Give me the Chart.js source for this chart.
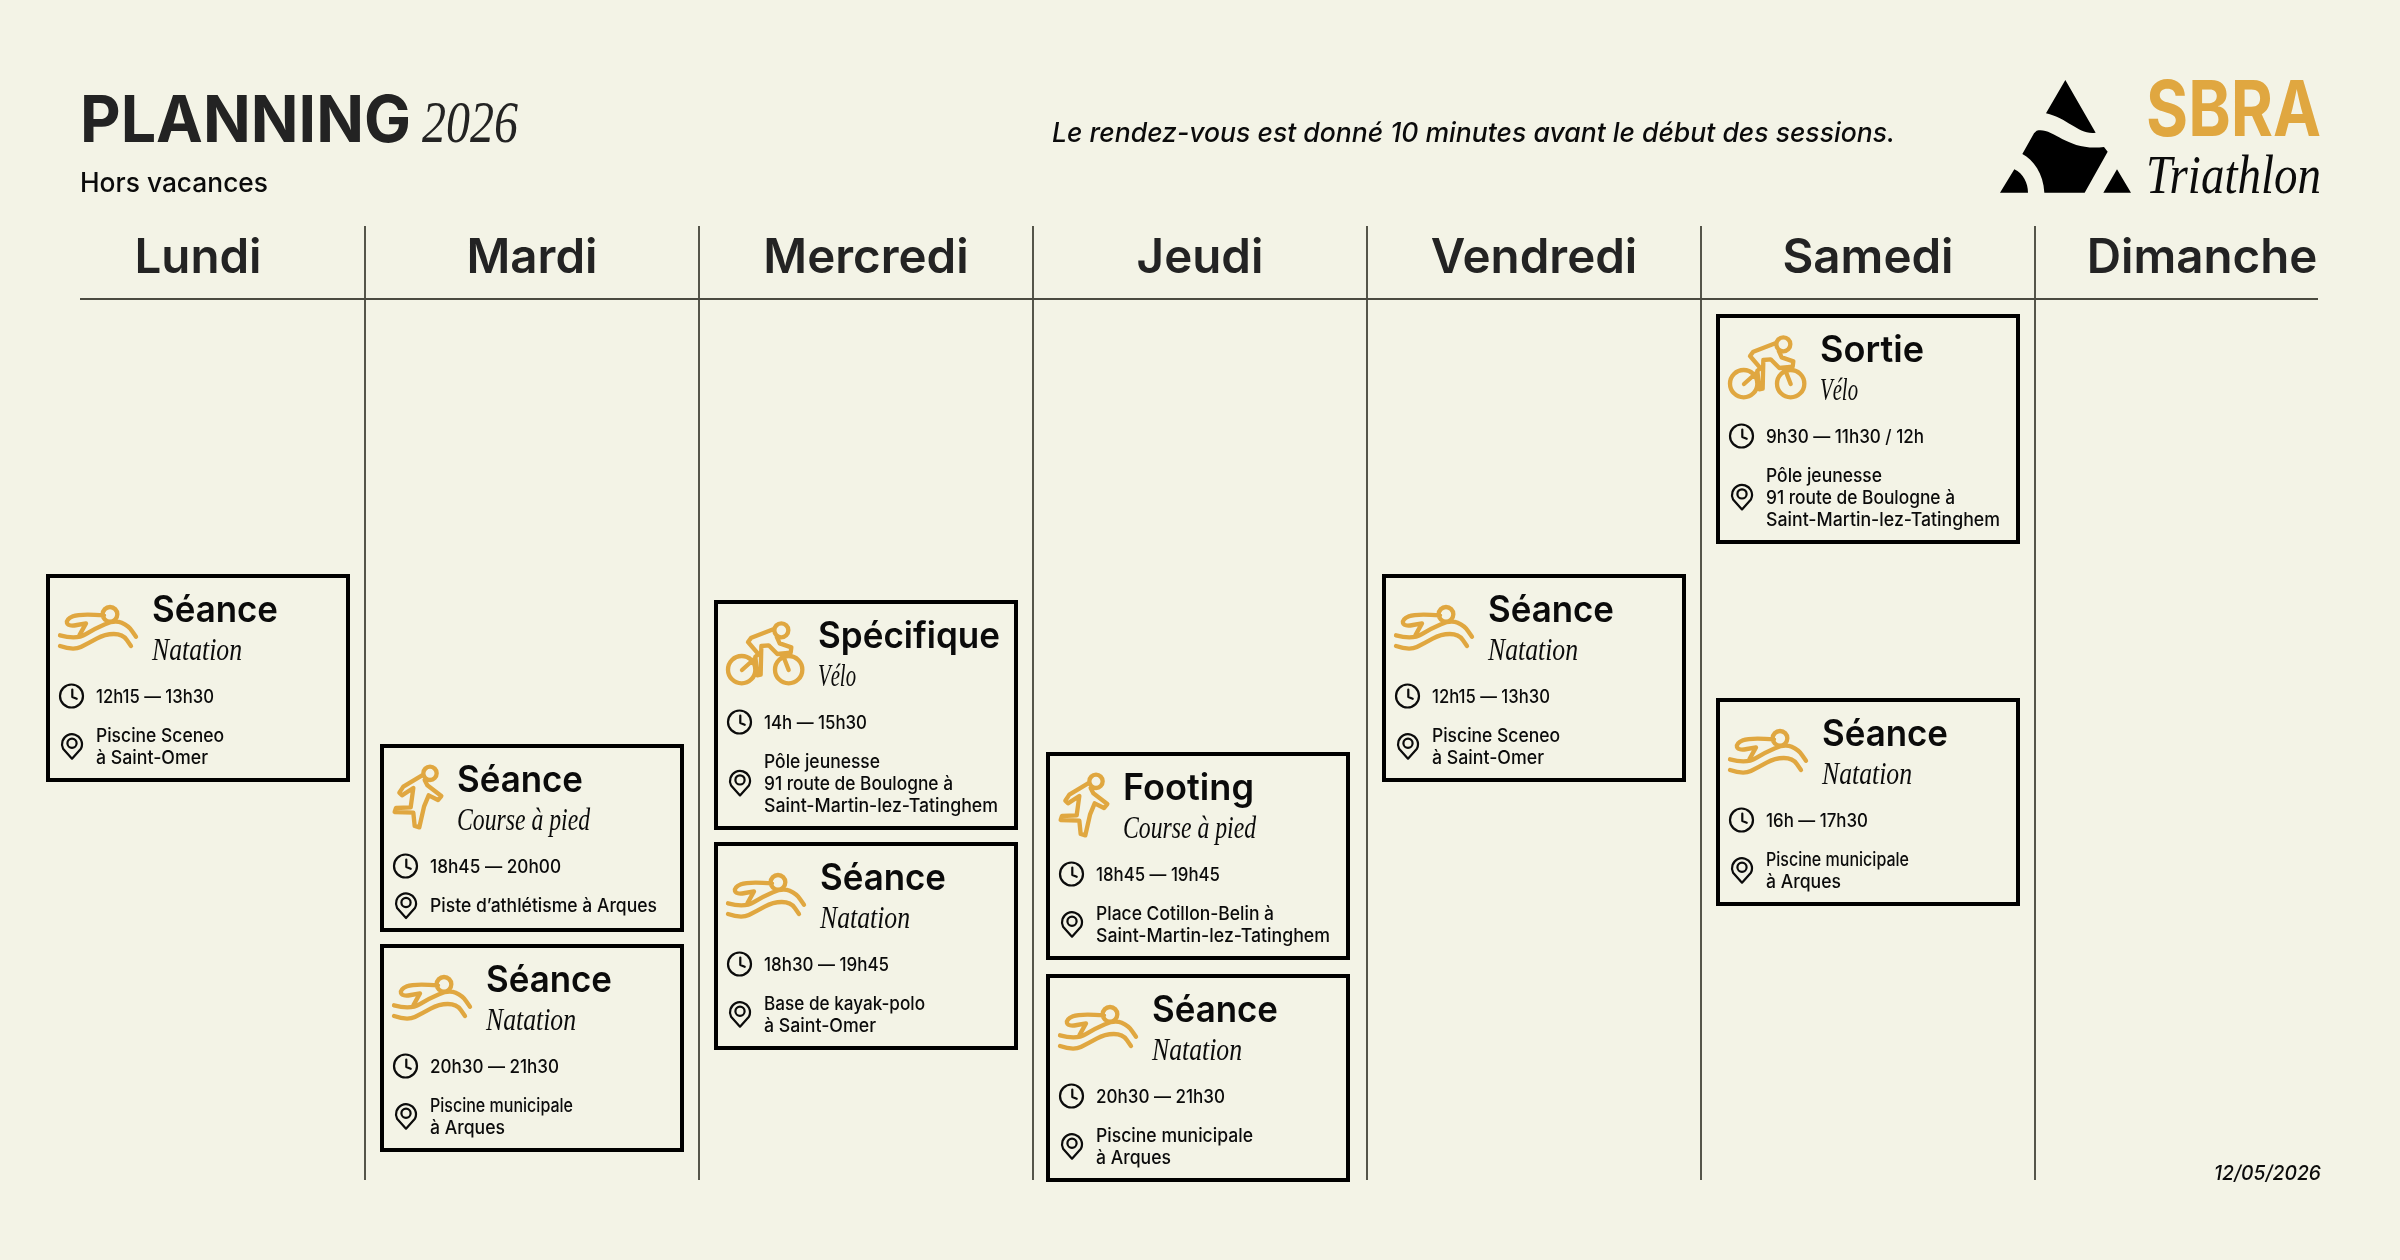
<!DOCTYPE html>
<html lang="fr">
<head>
<meta charset="utf-8">
<title>Planning 2026</title>
<script src="https://cdn.jsdelivr.net/npm/chart.js@4"></script>
<style>
html,body{margin:0;padding:0;background:#F3F3E6;}
canvas{display:block;}
</style>
</head>
<body>
<canvas id="c" width="2400" height="1260"></canvas>
<script>
// ---- DATA ----
const days = ["Lundi","Mardi","Mercredi","Jeudi","Vendredi","Samedi","Dimanche"];
// card extents read on the planning axis (distance below the header rule)
const firstStart  = [275,445,301,453,275,15,null];
const firstEnd    = [483,633,531,661,483,245,null];
const secondStart = [null,645,543,675,null,399,null];
const secondEnd   = [null,853,751,883,null,607,null];

const firstTitles  = ["Séance","Séance","Spécifique","Footing","Séance","Sortie",null];
const firstSports  = ["Natation","Course à pied","Vélo","Course à pied","Natation","Vélo",null];
const firstTimes   = ["12h15 — 13h30","18h45 — 20h00","14h — 15h30","18h45 — 19h45","12h15 — 13h30","9h30 — 11h30 / 12h",null];
const firstPlaces  = [
  ["Piscine Sceneo","à Saint-Omer"],
  ["Piste d’athlétisme à Arques"],
  ["Pôle jeunesse","91 route de Boulogne à","Saint-Martin-lez-Tatinghem"],
  ["Place Cotillon-Belin à","Saint-Martin-lez-Tatinghem"],
  ["Piscine Sceneo","à Saint-Omer"],
  ["Pôle jeunesse","91 route de Boulogne à","Saint-Martin-lez-Tatinghem"],
  null
];
const secondTitles = [null,"Séance","Séance","Séance",null,"Séance",null];
const secondSports = [null,"Natation","Natation","Natation",null,"Natation",null];
const secondTimes  = [null,"20h30 — 21h30","18h30 — 19h45","20h30 — 21h30",null,"16h — 17h30",null];
const secondPlaces = [
  null,
  ["Piscine municipale","à Arques"],
  ["Base de kayak-polo","à Saint-Omer"],
  ["Piscine municipale","à Arques"],
  null,
  ["Piscine municipale","à Arques"],
  null
];

const headline = "PLANNING";
const headlineYear = "2026";
const subtitle = "Hors vacances";
const note = "Le rendez-vous est donné 10 minutes avant le début des sessions.";
const brand = "SBRA";
const brandSub = "Triathlon";
const stamp = "12/05/2026";

// ---- STYLE ----
const BG = "#F3F3E6", INK = "#0B0B0B", DARK = "#232323", GOLD = "#E0A740", LINE = "#55554A";
const SANS = "Inter", SERIF = "'Liberation Serif'";

// set width of each card string, so the substitute fonts keep the reference's measure
const setWidth = {
  "Séance":126, "Spécifique":182, "Footing":131, "Sortie":104,
  "Natation":90, "Vélo":38, "Course à pied":133,
  "12h15 — 13h30":118, "18h45 — 20h00":131, "9h30 — 11h30 / 12h":158, "14h — 15h30":103,
  "18h30 — 19h45":125, "18h45 — 19h45":124, "20h30 — 21h30":129, "16h — 17h30":102,
  "Piscine Sceneo":128, "à Saint-Omer":112, "Piste d’athlétisme à Arques":227,
  "Pôle jeunesse":116, "91 route de Boulogne à":189, "Saint-Martin-lez-Tatinghem":234,
  "Place Cotillon-Belin à":178, "Piscine municipale":143, "à Arques":75, "Base de kayak-polo":161
};
const JEUDI_PISCINE_WIDTH = 157;

function pairs(a, b){ return a.map((v,i)=> v===null ? null : [v,b[i]]); }

function txt(ctx, s, x, y, font, color, squeeze){
  ctx.save();
  ctx.font = font;
  ctx.fillStyle = color;
  ctx.textAlign = "left";
  ctx.textBaseline = "alphabetic";
  ctx.translate(x, y);
  ctx.scale(squeeze || 1, 1);
  ctx.fillText(s, 0, 0);
  ctx.restore();
}
function txtFit(ctx, s, x, y, font, color, width){
  ctx.save();
  ctx.font = font;
  const w = ctx.measureText(s).width;
  ctx.restore();
  txt(ctx, s, x, y, font, color, width / w);
}
function smooth(ctx, p){
  ctx.moveTo(p[0][0], p[0][1]);
  for (let i = 1; i < p.length - 1; i++){
    const mx = (p[i][0] + p[i+1][0]) / 2, my = (p[i][1] + p[i+1][1]) / 2;
    ctx.quadraticCurveTo(p[i][0], p[i][1], mx, my);
  }
  const l = p[p.length-1];
  ctx.lineTo(l[0], l[1]);
}
function poly(ctx, p, closed){
  ctx.moveTo(p[0][0], p[0][1]);
  for (let i = 1; i < p.length; i++) ctx.lineTo(p[i][0], p[i][1]);
  if (closed) ctx.closePath();
}
function iconFrame(ctx, left, top, ox, oy){
  ctx.translate(left, top);
  ctx.scale(1/3, 1/3);
  ctx.translate(-ox, -oy);
  ctx.strokeStyle = GOLD;
  ctx.lineWidth = 13;
  ctx.lineCap = "round";
  ctx.lineJoin = "round";
}
function swim(ctx, left, top){
  ctx.save();
  iconFrame(ctx, left, top, 48, 42);
  ctx.beginPath();
  ctx.moveTo(262, 163);
  ctx.arc(240, 163, 22, 0, Math.PI*2);
  smooth(ctx, [[90,226],[140,240],[195,205],[255,180],[295,197],[318,230]]);
  smooth(ctx, [[222,166],[150,160],[108,178],[114,200],[168,190]]);
  ctx.lineTo(148,226);
  smooth(ctx, [[90,258],[130,272],[175,250],[225,222],[278,222],[303,258]]);
  ctx.stroke();
  ctx.restore();
}
function bike(ctx, left, top){
  ctx.save();
  iconFrame(ctx, left, top, 48, 42);
  ctx.beginPath();
  ctx.moveTo(172, 251);
  ctx.arc(131, 251, 41, 0, Math.PI*2);
  ctx.moveTo(313, 251);
  ctx.arc(272, 251, 41, 0, Math.PI*2);
  ctx.moveTo(271, 133);
  ctx.arc(250, 133, 21, 0, Math.PI*2);
  poly(ctx, [[132,252],[172,216]]);
  poly(ctx, [[258,216],[272,252]]);
  poly(ctx, [[226,130],[160,155],[150,168],[182,205],[172,212],[178,268],[188,266],[190,180],[212,178],[238,204],[278,200],[280,184],[245,172],[236,152]]);
  ctx.stroke();
  ctx.restore();
}
function run(ctx, left, top){
  ctx.save();
  iconFrame(ctx, left, top, 30, 42);
  ctx.beginPath();
  ctx.moveTo(200, 130);
  ctx.arc(180, 130, 20, 0, Math.PI*2);
  poly(ctx, [[160,134],[100,170],[88,188],[96,196],[130,174],[122,232],[78,234],[74,246],[130,248],[134,288],[148,292],[162,230],[176,196],[204,210],[214,198],[172,166],[164,150]]);
  ctx.stroke();
  ctx.restore();
}
const sportIcon = {"Natation":swim, "Vélo":bike, "Course à pied":run};
const sportTitleX = {"Natation":106, "Vélo":104, "Course à pied":77};

function clock(ctx, x, y){
  ctx.save();
  ctx.strokeStyle = INK; ctx.lineWidth = 2.2; ctx.lineCap = "round"; ctx.lineJoin = "round";
  ctx.beginPath();
  ctx.arc(x, y, 11.5, 0, Math.PI*2);
  ctx.moveTo(x+0.8, y-6.5);
  ctx.lineTo(x+0.8, y+1);
  ctx.lineTo(x+5.2, y+2.8);
  ctx.stroke();
  ctx.restore();
}
function pin(ctx, x, y){
  ctx.save();
  ctx.strokeStyle = INK; ctx.lineWidth = 2.2; ctx.lineJoin = "round";
  ctx.beginPath();
  ctx.arc(x, y-2, 10, Math.PI*0.85, Math.PI*0.15);
  ctx.lineTo(x, y+12.5);
  ctx.closePath();
  ctx.moveTo(x+4.6, y-3);
  ctx.arc(x, y-3, 4.6, 0, Math.PI*2);
  ctx.stroke();
  ctx.restore();
}
function logo(ctx){
  ctx.save();
  ctx.translate(1990, 70);
  ctx.scale(1/3, 1/3);
  ctx.fillStyle = "#000";
  ctx.beginPath();
  ctx.moveTo(226,30); ctx.lineTo(317,188);
  ctx.bezierCurveTo(265,195,235,145,168,130); ctx.closePath();
  ctx.moveTo(140,182);
  ctx.bezierCurveTo(190,170,230,245,342,231);
  ctx.lineTo(353,245); ctx.lineTo(284,368); ctx.lineTo(163,368);
  ctx.bezierCurveTo(160,310,130,270,97,252); ctx.lineTo(132,190); ctx.closePath();
  ctx.moveTo(30,368); ctx.lineTo(73,298);
  ctx.bezierCurveTo(100,310,114,340,114,368); ctx.closePath();
  ctx.moveTo(381,298); ctx.lineTo(423,368); ctx.lineTo(340,368); ctx.closePath();
  ctx.fill();
  ctx.restore();
}

const CARD_SHIFT = [0,0,0,-2,0,0,0];
const sets = [
  {titles:firstTitles, sports:firstSports, times:firstTimes, places:firstPlaces},
  {titles:secondTitles, sports:secondSports, times:secondTimes, places:secondPlaces}
];

const planningPlugin = {
  id: "planning",
  afterDatasetsUpdate(chart){
    chart.data.datasets.forEach((d,i)=>{
      chart.getDatasetMeta(i).data.forEach((el,j)=>{ el.x += CARD_SHIFT[j]; });
    });
  },
  afterDraw(chart){
    const ctx = chart.ctx;
    // header
    txtFit(ctx, headline, 80, 142, `700 64px ${SANS}`, DARK, 331);
    txtFit(ctx, headlineYear, 422, 142, `italic 400 60px ${SERIF}`, DARK, 96);
    txtFit(ctx, subtitle, 80, 192, `500 27px ${SANS}`, INK, 188);
    txtFit(ctx, note, 1052, 142, `italic 500 27.5px ${SANS}`, INK, 843);
    logo(ctx);
    txtFit(ctx, brand, 2146, 136, `700 77px ${SANS}`, GOLD, 175);
    txtFit(ctx, brandSub, 2146, 193, `italic 400 54px ${SERIF}`, INK, 175);
    txtFit(ctx, stamp, 2214, 1180, `italic 500 20px ${SANS}`, INK, 107);
    // header rule
    ctx.save();
    ctx.fillStyle = "#4A4A40";
    ctx.fillRect(80, chart.chartArea.top - 1, 2238, 2);
    ctx.restore();
    // cards
    sets.forEach((set, d)=>{
      chart.getDatasetMeta(d).data.forEach((el, j)=>{
        if (!set.titles[j]) return;
        const top = Math.min(el.y, el.base);
        const left = el.x - el.width/2;
        const sport = set.sports[j];
        sportIcon[sport](ctx, left, top);
        const tx = left + sportTitleX[sport];
        txtFit(ctx, set.titles[j], tx, top+48, `600 36.5px ${SANS}`, INK, setWidth[set.titles[j]]);
        txtFit(ctx, sport, tx, top+86, `italic 400 32px ${SERIF}`, INK, setWidth[sport]);
        clock(ctx, left+25.5, top+122);
        txtFit(ctx, set.times[j], left+50, top+129, `500 18.5px ${SANS}`, INK, setWidth[set.times[j]]);
        const lines = set.places[j];
        pin(ctx, left+26, top+161.5+10.7*(lines.length-1));
        lines.forEach((s,k)=>{
          const w = (j === 3 && s === "Piscine municipale") ? JEUDI_PISCINE_WIDTH : setWidth[s];
          txtFit(ctx, s, left+50, top+168+22*k, `500 18.5px ${SANS}`, INK, w);
        });
      });
    });
  }
};

const cardStyle = {
  grouped: false,
  barThickness: 304,
  backgroundColor: BG,
  borderColor: "#000",
  borderWidth: 4,
  borderSkipped: false,
  inflateAmount: 0,
  clip: false
};

new Chart(document.getElementById("c"), {
  type: "bar",
  data: {
    labels: days,
    datasets: [
      Object.assign({label:"Première séance", data: pairs(firstStart, firstEnd)}, cardStyle),
      Object.assign({label:"Deuxième séance", data: pairs(secondStart, secondEnd)}, cardStyle)
    ]
  },
  options: {
    responsive: false,
    animation: false,
    devicePixelRatio: 1,
    layout: {padding: {top: 200, left: 31, right: 31, bottom: 80}},
    plugins: {legend: {display: false}, title: {display: false}, tooltip: {enabled: false}, colors: {enabled: false}},
    scales: {
      x: {
        position: "top",
        afterFit(s){ s.height = 99; },
        border: {display: false},
        grid: {
          offset: true,
          drawOnChartArea: true,
          drawTicks: true,
          tickLength: 73,
          lineWidth: 2,
          color: c => c.index > 0 ? LINE : "transparent",
          tickColor: c => c.index > 0 ? LINE : "transparent"
        },
        ticks: {
          autoSkip: false,
          maxRotation: 0,
          minRotation: 0,
          padding: -61,
          color: DARK,
          font: {family: SANS, size: 47.5, weight: "600"}
        }
      },
      y: {display: false, reverse: true, min: 0, max: 881}
    }
  },
  plugins: [planningPlugin]
});
</script>
</body>
</html>
